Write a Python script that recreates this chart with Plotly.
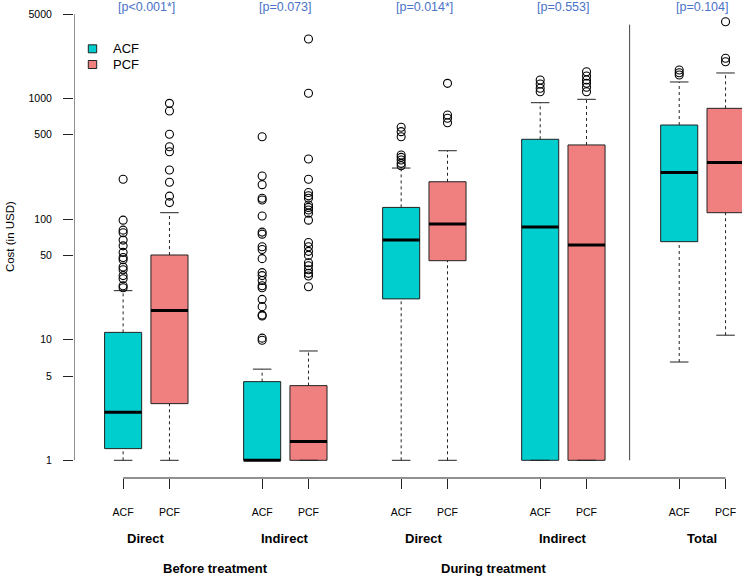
import plotly.graph_objects as go

# box positions (R boxplot "at" positions) and labels
positions = [1, 2, 4, 5, 7, 8, 10, 11, 13, 14]
groups = ["ACF", "PCF"] * 5
q1 = [1.25, 2.95, 1, 1, 21.8, 45.2, 1, 1, 65, 113]
medians = [2.5, 17.5, 1, 1.43, 67, 91, 86, 61, 244, 294]
q3 = [11.5, 50.4, 4.49, 4.16, 125, 204, 459, 412, 603, 829]
lower = [1, 1, 1, 1, 1, 1, 1, 1, 6.53, 10.9]
upper = [25.5, 113, 5.7, 8.06, 265, 369, 923, 985, 1371, 1628]
outliers = [
    [214, 98, 81, 77, 67, 60, 53, 48, 46, 40, 38, 34, 32, 28, 27],
    [912, 788, 505, 398, 362, 255, 202, 155, 137],
    [482, 228, 193, 149, 144, 106, 78, 75, 59, 56, 47, 36, 34, 31, 28, 27,
     21.6, 18.8, 16, 15.7, 10.3, 9.9],
    [3115, 1105, 315, 214, 166, 156, 149, 131, 125, 119, 112, 98, 64, 59, 54,
     50, 43.5, 41, 38, 35.5, 33.7, 27.5],
    [577, 531, 482, 340, 325, 309, 290, 277],
    [1336, 730, 685, 630],
    [1423, 1318, 1216, 1138],
    [1668, 1537, 1423, 1336, 1238, 1138],
    [1723, 1636, 1566],
    [4335, 2155, 2019],
]

cost_labels = ["Direct", "Indirect", "Direct", "Indirect", "Total"]
cost_pos = [1.5, 4.5, 7.5, 10.5, 13.5]
p_labels = ["[p<0.001*]", "[p=0.073]", "[p=0.014*]", "[p=0.553]", "[p=0.104]"]
phase_labels = ["Before treatment", "During treatment"]
phase_pos = [3, 9]
y_ticks = [1, 5, 10, 50, 100, 500, 1000, 5000]

colors = {"ACF": "#00CDCD", "PCF": "#F08080"}
FONT = "Liberation Sans, Arial, sans-serif"
INK = "#222222"
half = 0.4  # boxwex 0.8

fig = go.Figure()

for i, x in enumerate(positions):
    g = groups[i]
    # box body
    fig.add_trace(go.Scatter(
        x=[x - half, x + half, x + half, x - half, x - half],
        y=[q1[i], q1[i], q3[i], q3[i], q1[i]],
        mode="lines", fill="toself", fillcolor=colors[g],
        line=dict(color=INK, width=1), hoverinfo="skip", showlegend=False,
        cliponaxis=False,
    ))
    # whiskers
    for a, b in ((lower[i], q1[i]), (q3[i], upper[i])):
        if a != b:
            fig.add_trace(go.Scatter(
                x=[x, x], y=[a, b], mode="lines",
                line=dict(color=INK, width=1, dash="3px,3px"),
                hoverinfo="skip", showlegend=False,
            ))
    # staples
    for v in (lower[i], upper[i]):
        fig.add_trace(go.Scatter(
            x=[x - half / 2, x + half / 2], y=[v, v], mode="lines",
            line=dict(color=INK, width=1), hoverinfo="skip", showlegend=False,
            cliponaxis=False,
        ))
    # median
    fig.add_trace(go.Scatter(
        x=[x - half, x + half], y=[medians[i], medians[i]], mode="lines",
        line=dict(color="black", width=3), hoverinfo="skip", showlegend=False,
        cliponaxis=False,
    ))
    # outliers
    fig.add_trace(go.Scatter(
        x=[x] * len(outliers[i]), y=outliers[i], mode="markers",
        marker=dict(symbol="circle-open", size=8, color="black",
                    line=dict(width=1.1)),
        showlegend=False, cliponaxis=False,
    ))

# y axis line (only spans the ticks, like base R)
fig.add_trace(go.Scatter(
    x=[-0.06, -0.06], y=[y_ticks[0], y_ticks[-1]], mode="lines",
    line=dict(color=INK, width=1), hoverinfo="skip", showlegend=False,
    cliponaxis=False,
))
# separator between the treatment phases and total
fig.add_trace(go.Scatter(
    x=[11.93, 11.93], y=[1, 4100], mode="lines",
    line=dict(color="#444444", width=1), hoverinfo="skip", showlegend=False,
))

# x axis line from first to last tick
fig.add_shape(type="line", xref="x", yref="paper", x0=positions[0],
              x1=positions[-1], y0=0, y1=0, line=dict(color=INK, width=1))

annotations = []
for lab, x in zip(p_labels, cost_pos):
    annotations.append(dict(x=x, y=0.9847, xref="x", yref="paper", text=lab,
                            showarrow=False, yanchor="middle",
                            font=dict(size=12.5, color="#4A72C8", family=FONT)))
for lab, x in zip(cost_labels, cost_pos):
    annotations.append(dict(x=x, y=-0.1276, xref="x", yref="paper",
                            text=f"<b>{lab}</b>", showarrow=False,
                            yanchor="middle",
                            font=dict(size=13, color="black", family=FONT)))
for lab, x in zip(phase_labels, phase_pos):
    annotations.append(dict(x=x, y=-0.190, xref="x", yref="paper",
                            text=f"<b>{lab}</b>", showarrow=False,
                            yanchor="middle",
                            font=dict(size=13, color="black", family=FONT)))
annotations.append(dict(x=-0.0958, y=0.504, xref="paper", yref="paper",
                        text="Cost (in USD)", textangle=-90, showarrow=False,
                        xanchor="center", yanchor="middle",
                        font=dict(size=11.5, color="black", family=FONT)))

# legend drawn by hand, R style
for k, g in enumerate(["ACF", "PCF"]):
    yc = 48.8 + k * 15.7
    fig.add_shape(type="rect", xref="paper", yref="paper",
                  x0=(88.3 - 74) / 668, x1=(96.7 - 74) / 668,
                  y0=(478 - yc - 4) / 478, y1=(478 - yc + 4) / 478,
                  fillcolor=colors[g], line=dict(color=INK, width=1))
    annotations.append(dict(x=(111 - 74) / 668, y=(478 - yc) / 478,
                            xref="paper", yref="paper", text=g,
                            showarrow=False, xanchor="left", yanchor="middle",
                            font=dict(size=13, color="black", family=FONT)))

fig.update_layout(
    width=742, height=577,
    margin=dict(l=74, r=0, t=0, b=99),
    plot_bgcolor="white", paper_bgcolor="white",
    font=dict(family=FONT, color="black"),
    showlegend=False,
    hovermode=False,
    annotations=annotations,
    xaxis=dict(
        range=[-0.06, 14.355], showgrid=False, zeroline=False, showline=False,
        tickmode="array", tickvals=positions, ticktext=groups,
        ticks="outside", ticklen=10, tickcolor=INK, tickwidth=1,
        ticklabelstandoff=14, tickfont=dict(size=10.5, family=FONT),
    ),
    yaxis=dict(
        type="log", range=[-0.1468, 3.8168], showgrid=False, zeroline=False,
        showline=False, tickmode="array", tickvals=y_ticks,
        ticktext=[str(v) for v in y_ticks],
        ticks="outside", ticklen=10, tickcolor=INK, tickwidth=1,
        ticklabelstandoff=9, tickfont=dict(size=10.5, family=FONT),
    ),
)

fig.write_html(
    "out.html",
    config={"displayModeBar": False},
    post_script="document.body.style.margin='0';document.body.style.overflow='hidden';",
)
